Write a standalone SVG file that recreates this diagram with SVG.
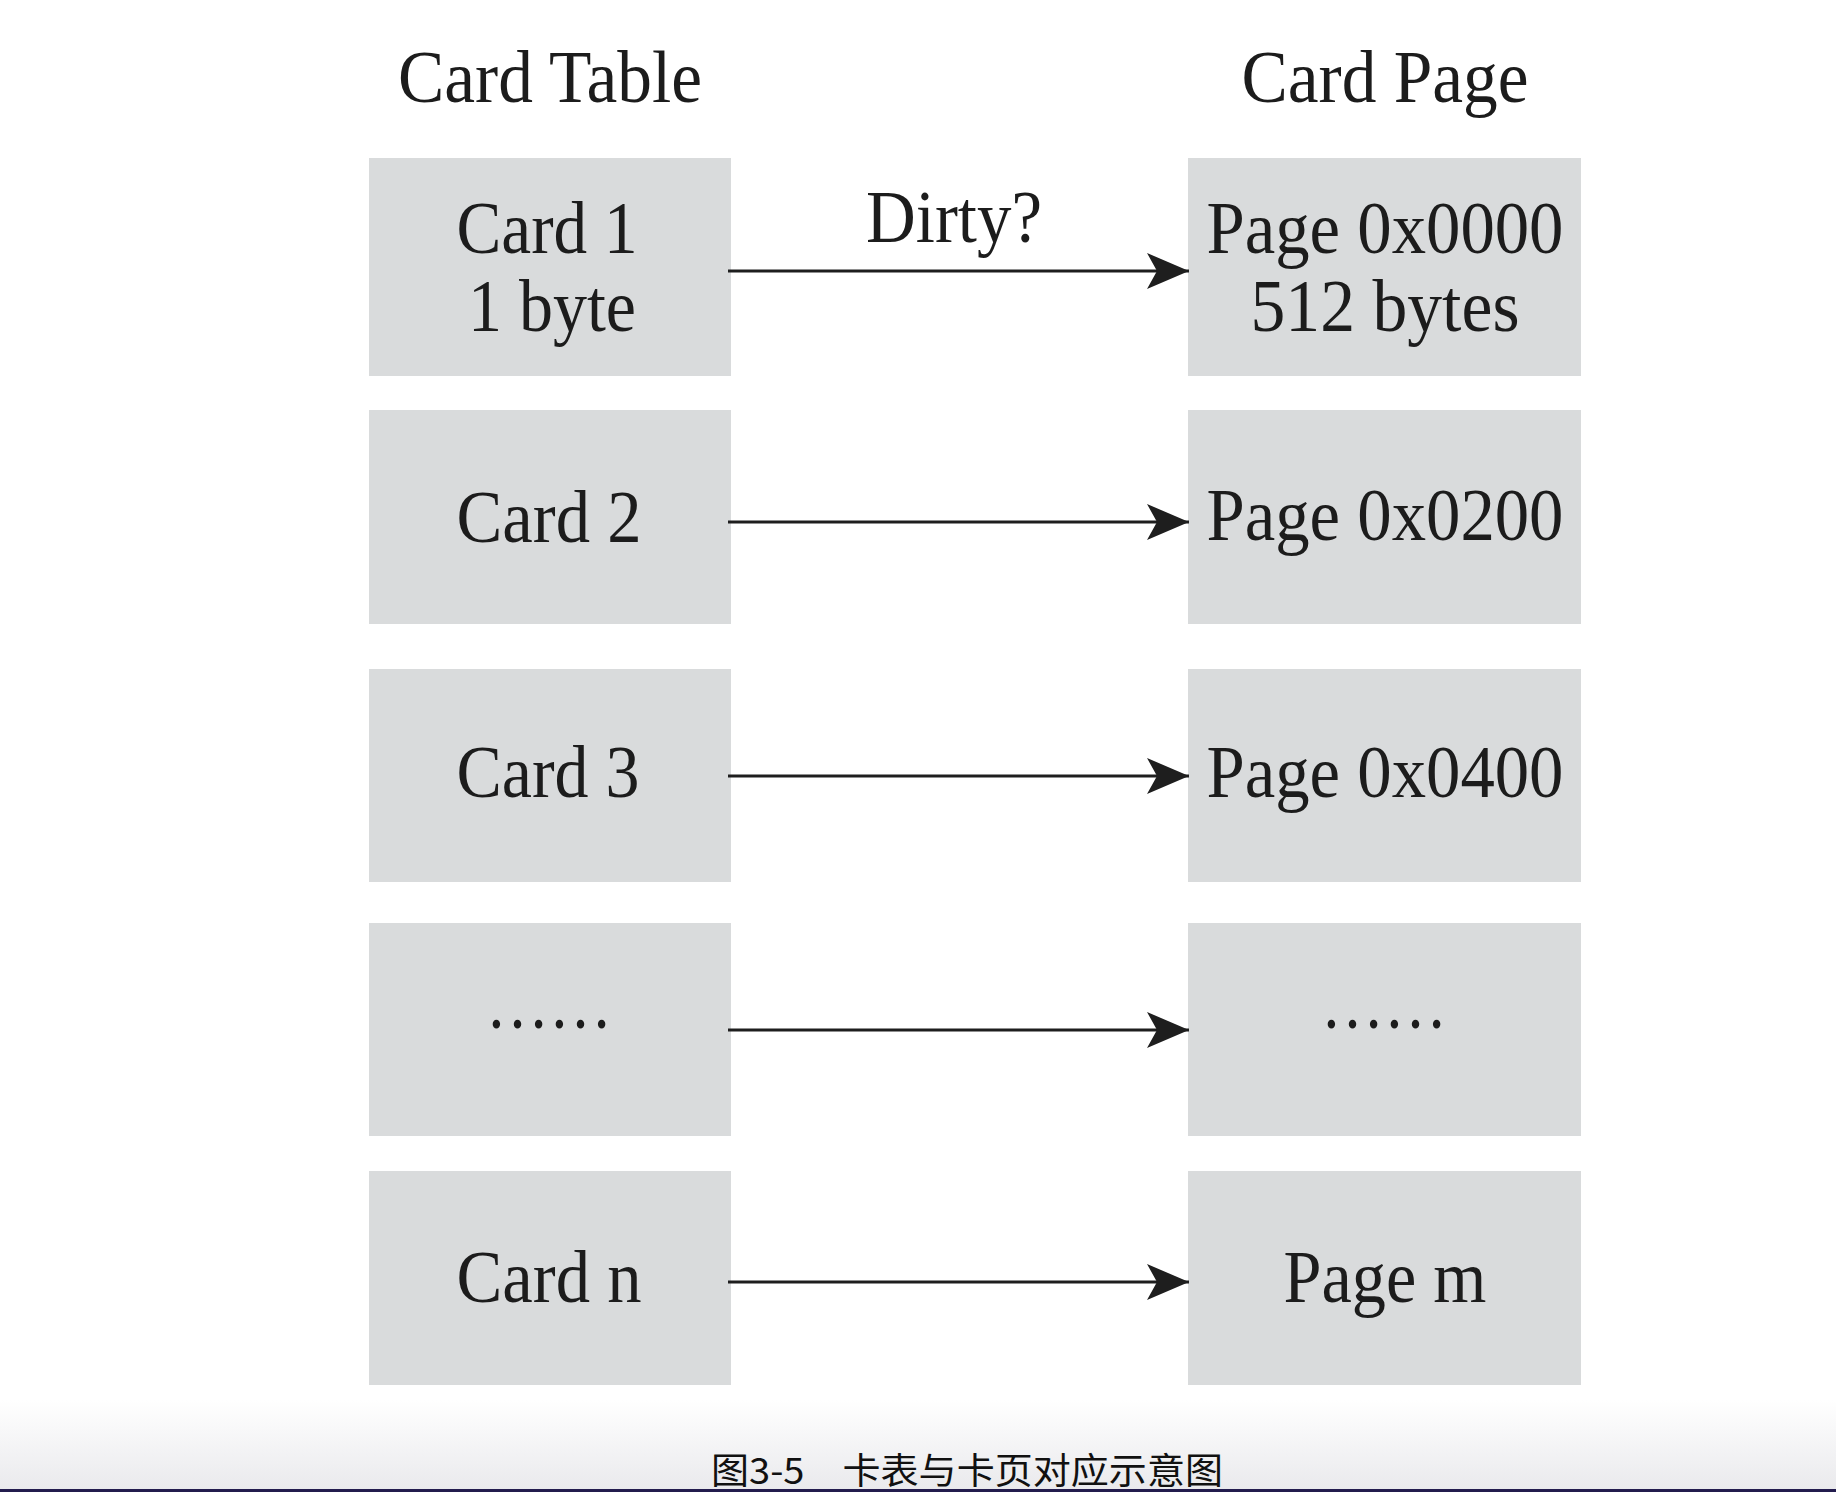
<svg xmlns="http://www.w3.org/2000/svg" width="1836" height="1492" viewBox="0 0 1836 1492">
<defs>
<linearGradient id="bg" x1="0" y1="0" x2="0" y2="1">
<stop offset="0" stop-color="#ffffff"/>
<stop offset="1" stop-color="#e9e9ec"/>
</linearGradient>
<marker id="ah" markerUnits="userSpaceOnUse" markerWidth="46" markerHeight="40" refX="42" refY="20" orient="auto">
<path d="M0,2 L42,20 L0,38 L10,20 Z" fill="#1e1e1e"/>
</marker>
<style>
.box{fill:#d9dbdc}
.t{font-family:"Liberation Serif","Times New Roman",serif;font-size:74px;fill:#1c1c1c;text-anchor:middle}
.c{stroke:#1e1e1e;stroke-width:3;fill:none;marker-end:url(#ah)}
.cap{font-family:"Noto Sans CJK SC",sans-serif;font-size:36px;fill:#111}
</style>
</defs>
<rect width="1836" height="1492" fill="#ffffff"/>
<rect x="0" y="1400" width="1836" height="92" fill="url(#bg)"/>
<text class="t" x="550" y="102" textLength="304" lengthAdjust="spacingAndGlyphs">Card Table</text>
<text class="t" x="1385" y="102" textLength="287" lengthAdjust="spacingAndGlyphs">Card Page</text>
<g id="card1"><rect class="box" x="369" y="158" width="362" height="218"/>
<text class="t" x="547" y="253" textLength="181" lengthAdjust="spacingAndGlyphs">Card 1</text>
<text class="t" x="552" y="331" textLength="168" lengthAdjust="spacingAndGlyphs">1 byte</text></g>
<g id="page0000"><rect class="box" x="1188" y="158" width="393" height="218"/>
<text class="t" x="1385" y="253" textLength="357" lengthAdjust="spacingAndGlyphs">Page 0x0000</text>
<text class="t" x="1385" y="331" textLength="269" lengthAdjust="spacingAndGlyphs">512 bytes</text></g>
<g id="card2"><rect class="box" x="369" y="410" width="362" height="214"/>
<text class="t" x="549" y="542" textLength="185" lengthAdjust="spacingAndGlyphs">Card 2</text></g>
<g id="page0200"><rect class="box" x="1188" y="410" width="393" height="214"/>
<text class="t" x="1385" y="540" textLength="357" lengthAdjust="spacingAndGlyphs">Page 0x0200</text></g>
<g id="card3"><rect class="box" x="369" y="669" width="362" height="213"/>
<text class="t" x="548" y="797" textLength="183" lengthAdjust="spacingAndGlyphs">Card 3</text></g>
<g id="page0400"><rect class="box" x="1188" y="669" width="393" height="213"/>
<text class="t" x="1385" y="797" textLength="357" lengthAdjust="spacingAndGlyphs">Page 0x0400</text></g>
<g id="cardDots"><rect class="box" x="369" y="923" width="362" height="213"/>
<text class="t" x="549" y="1028" textLength="126" lengthAdjust="spacingAndGlyphs">……</text></g>
<g id="pageDots"><rect class="box" x="1188" y="923" width="393" height="213"/>
<text class="t" x="1384" y="1028" textLength="126" lengthAdjust="spacingAndGlyphs">……</text></g>
<g id="cardN"><rect class="box" x="369" y="1171" width="362" height="214"/>
<text class="t" x="549" y="1302" textLength="185" lengthAdjust="spacingAndGlyphs">Card n</text></g>
<g id="pageM"><rect class="box" x="1188" y="1171" width="393" height="214"/>
<text class="t" x="1385" y="1302" textLength="203" lengthAdjust="spacingAndGlyphs">Page m</text></g>
<g id="connectors">
<line class="c" x1="728" y1="271" x2="1189" y2="271"/>
<line class="c" x1="728" y1="522" x2="1189" y2="522"/>
<line class="c" x1="728" y1="776" x2="1189" y2="776"/>
<line class="c" x1="728" y1="1030" x2="1189" y2="1030"/>
<line class="c" x1="728" y1="1282" x2="1189" y2="1282"/>
<text class="t" x="954" y="242" textLength="176" lengthAdjust="spacingAndGlyphs">Dirty?</text>
</g>
<text class="cap" x="711" y="1484" textLength="512" lengthAdjust="spacingAndGlyphs">图3-5　卡表与卡页对应示意图</text>
<rect x="0" y="1489" width="1836" height="3" fill="#231c4e"/>
</svg>
